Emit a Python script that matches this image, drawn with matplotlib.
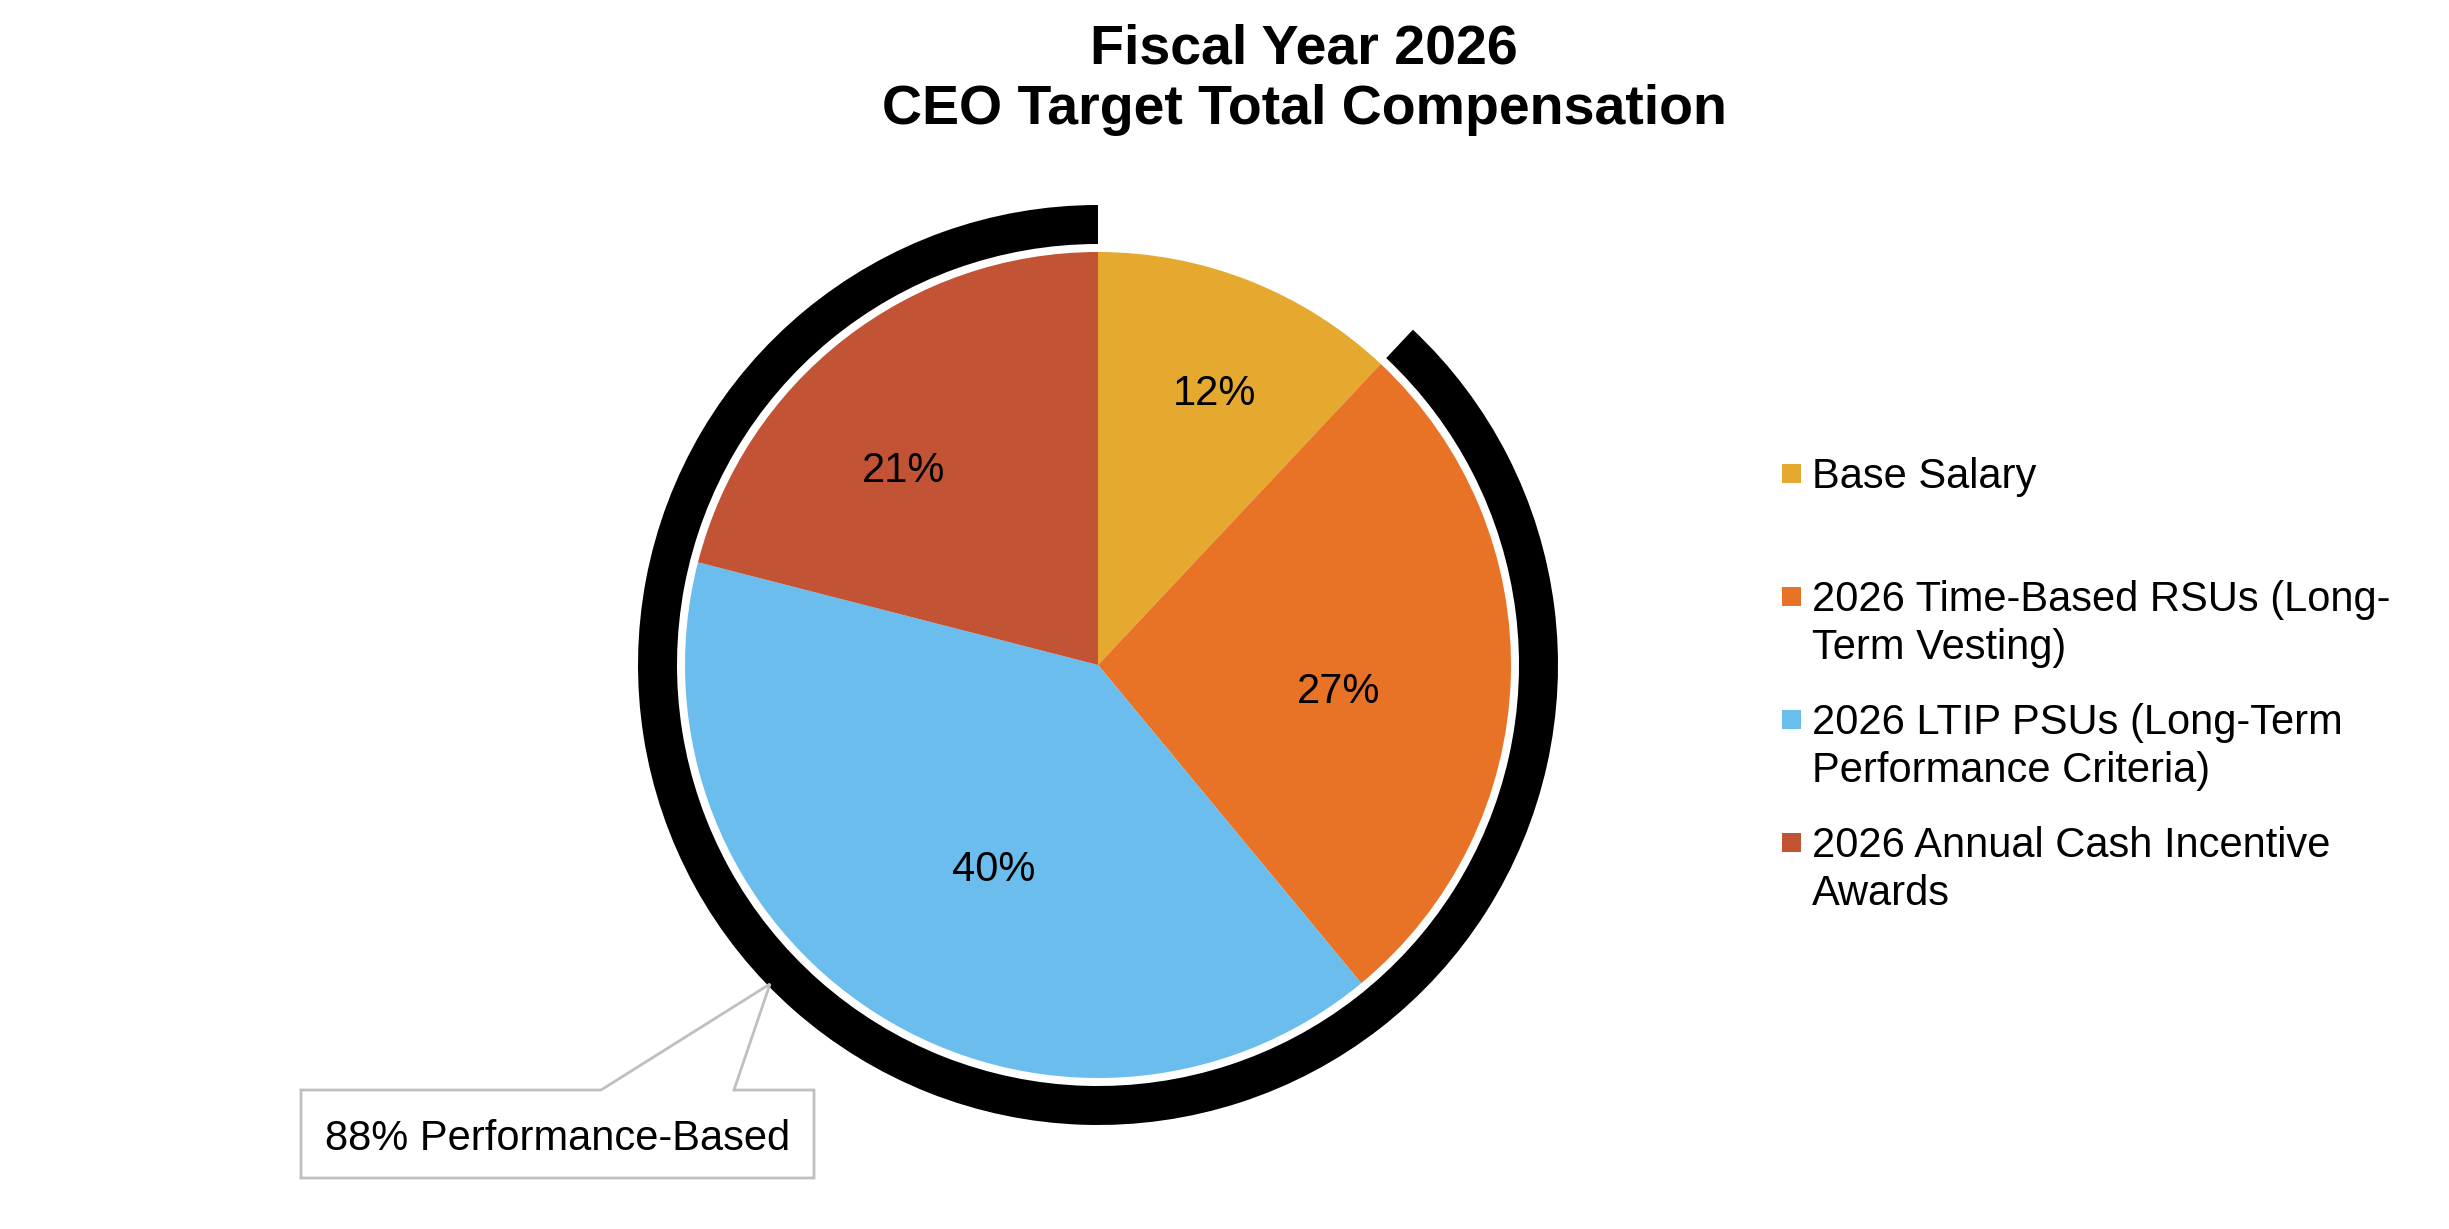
import matplotlib
matplotlib.use("Agg")
import matplotlib.pyplot as plt
from matplotlib.patches import Wedge, Polygon, Rectangle
import numpy as np

plt.rcParams['font.family'] = ['Liberation Sans', 'DejaVu Sans']

# ---- data ----
categories = ["Base Salary",
              "2026 Time-Based RSUs (Long-\nTerm Vesting)",
              "2026 LTIP PSUs (Long-Term\nPerformance Criteria)",
              "2026 Annual Cash Incentive\nAwards"]
shares = [12, 27, 40, 21]
colors = ["#E5A92F", "#E87326", "#6BBDEE", "#C25435"]
title_lines = ["Fiscal Year 2026", "CEO Target Total Compensation"]
performance_based = [False, True, True, True]

W, H = 2449, 1229
fig = plt.figure(figsize=(W / 100, H / 100), dpi=100)
ax = fig.add_axes([0, 0, 1, 1])

cx, cy_img = 1098, 665
cy = H - cy_img
R = 413
FS = 30

wedges, _ = ax.pie(shares, colors=colors, startangle=90, counterclock=False,
                   center=(cx, cy), radius=R, frame=True,
                   wedgeprops=dict(linewidth=0))

# percentage labels
label_dist = [0.72, 0.585, 0.55, 0.67]
label_shift = [1.4, 3.8, -5.0, -6.7]  # degrees, clockwise
for w, s, d, sh in zip(wedges, shares, label_dist, label_shift):
    mid = np.deg2rad((w.theta1 + w.theta2) / 2 - sh)
    ax.text(cx + d * R * np.cos(mid), cy + d * R * np.sin(mid) - 3, f"{s}%",
            ha="center", va="center", fontsize=FS, color="black")

# performance-based ring
perf_total = sum(s for s, p in zip(shares, performance_based) if p)
total = sum(shares)
ring_span = 360 * perf_total / total
ring = Wedge((cx, cy), 460, 90, 90 + ring_span, width=39, facecolor="black",
             edgecolor="none")
ax.add_patch(ring)

# callout
box_l, box_r, box_t, box_b = 301, 814, 1090, 1178
tip = (770, 984)
pts_img = [(box_l, box_t), (601, box_t), tip, (734, box_t), (box_r, box_t),
           (box_r, box_b), (box_l, box_b)]
pts = [(x, H - y) for x, y in pts_img]
ax.add_patch(Polygon(pts, closed=True, facecolor="white", edgecolor="#BFBFBF",
                     linewidth=2.0, zorder=5))
ax.text((box_l + box_r) / 2, H - (box_t + box_b) / 2 - 5,
        f"{round(100 * perf_total / total)}% Performance-Based",
        ha="center", va="center", fontsize=FS, zorder=6)

# legend (manual, equal slots)
leg_y0 = 473
leg_step = 123
sq = 19
for i, (c, lab) in enumerate(zip(colors, categories)):
    yc = leg_y0 + i * leg_step
    ax.add_patch(Rectangle((1782, H - yc - sq / 2), sq, sq, facecolor=c,
                           edgecolor="none"))
    ax.text(1812, H - yc + 16, lab, ha="left", va="top", fontsize=FS,
            linespacing=1.25)

# title
ax.text(1304, H - 80, "\n".join(title_lines), ha="center", va="center",
        fontsize=40, fontweight="bold", linespacing=1.22)

ax.set_xlim(0, W)
ax.set_ylim(0, H)
ax.set_aspect("equal")
ax.axis("off")

fig.savefig("out.png", dpi=100, facecolor="white")
